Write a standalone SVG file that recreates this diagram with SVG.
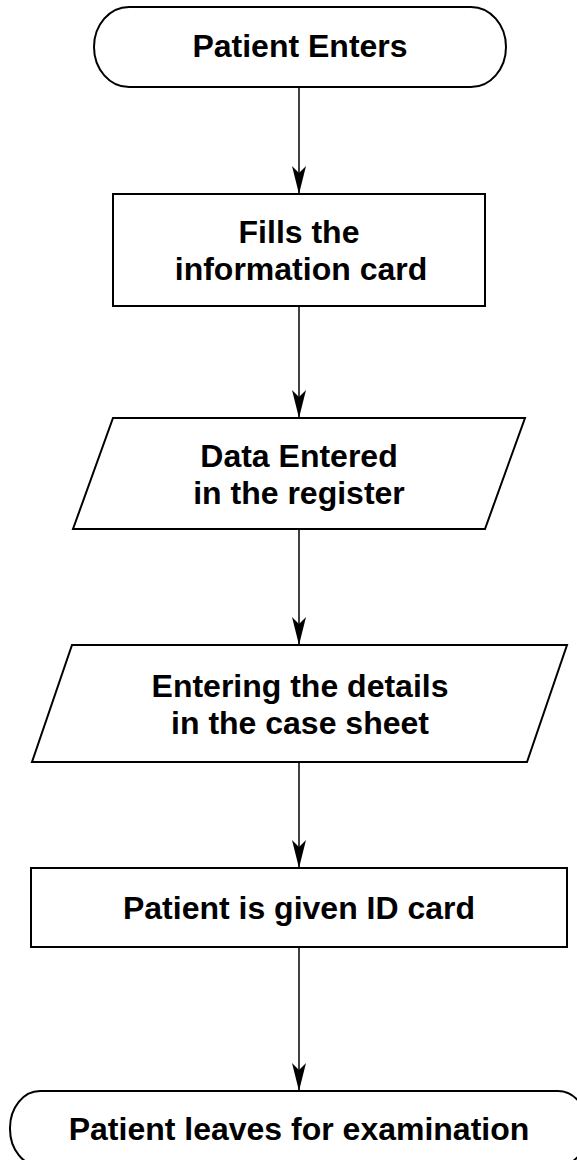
<svg xmlns="http://www.w3.org/2000/svg" width="577" height="1160" viewBox="0 0 577 1160">
<style>
.shape{fill:#fff;stroke:#000;stroke-width:2}
.lbl{font-family:"Liberation Sans",Arial,sans-serif;font-weight:bold;font-size:32px;fill:#000;text-anchor:middle}
.conn{stroke:#000;stroke-width:1.5;fill:none;marker-end:url(#arr)}
</style>
<defs>
<marker id="arr" viewBox="-30 -8 31 16" markerWidth="31" markerHeight="16" refX="0" refY="0" markerUnits="userSpaceOnUse" orient="auto">
<path d="M0,0 L-28,-7 L-21,0 L-28,7 Z" fill="#000"/>
</marker>
</defs>
<rect width="577" height="1160" fill="#fff"/>
<g id="connectors">
<line class="conn" x1="299" y1="87" x2="299" y2="194"/>
<line class="conn" x1="299" y1="306" x2="299" y2="418"/>
<line class="conn" x1="299" y1="529" x2="299" y2="645"/>
<line class="conn" x1="299" y1="762" x2="299" y2="868"/>
<line class="conn" x1="299" y1="947" x2="299" y2="1091"/>
</g>
<g id="start">
<rect class="shape" x="94" y="7" width="412" height="80" rx="35" ry="40"/>
<text class="lbl" x="300" y="57">Patient Enters</text>
</g>
<g id="fill-card">
<rect class="shape" x="113" y="194" width="372" height="112"/>
<text class="lbl" x="299" y="243">Fills the</text>
<text class="lbl" x="301" y="280">information card</text>
</g>
<g id="data-register">
<polygon class="shape" points="113,418 525,418 485,529 73,529"/>
<text class="lbl" x="299" y="466.5">Data Entered</text>
<text class="lbl" x="299" y="503.5">in the register</text>
</g>
<g id="case-sheet">
<polygon class="shape" points="72,645 567,645 527,762 32,762"/>
<text class="lbl" x="300" y="696.5">Entering the details</text>
<text class="lbl" x="300" y="733.5">in the case sheet</text>
</g>
<g id="id-card">
<rect class="shape" x="31" y="868" width="536" height="79"/>
<text class="lbl" x="299" y="919">Patient is given ID card</text>
</g>
<g id="end">
<rect class="shape" x="10" y="1091" width="578" height="75" rx="30" ry="37"/>
<text class="lbl" x="299" y="1140">Patient leaves for examination</text>
</g>
</svg>
